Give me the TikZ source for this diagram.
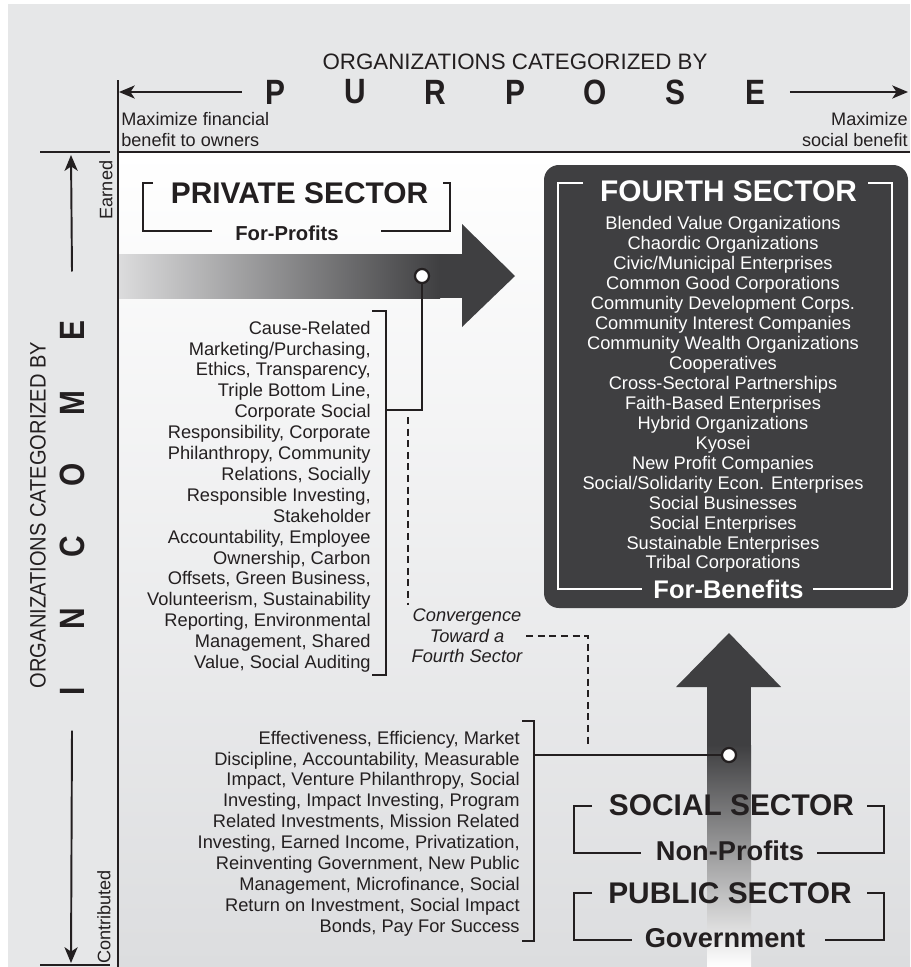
\documentclass[tikz,border=0pt]{standalone}
\usepackage{fontspec}
\setmainfont{Liberation Sans}
\newfontfamily\narrowsans[FakeStretch=0.85]{Liberation Sans}
\newfontfamily\slimsans[FakeStretch=0.9]{Liberation Sans}
\usetikzlibrary{arrows.meta}
\definecolor{sheet-gray}{HTML}{E6E7E8}
\definecolor{panel-gray}{HTML}{DCDDDF}
\definecolor{band-light}{HTML}{DCDCDD}
\definecolor{sector-dark}{HTML}{3F3F41}
\definecolor{ink}{HTML}{231F20}

\begin{document}
\begin{tikzpicture}[x=0.02cm, y=-0.02cm,
      every node/.style={inner sep=0pt, text=ink},
      frame/.style={draw=ink, line width=1.4pt},
      axis/.style={draw=ink, line width=1.1pt},
      axisarrow/.style={axis, -{Stealth[length=9pt, width=7.5pt, inset=2.5pt]}},
      bracket/.style={draw=ink, line width=1.2pt},
      link/.style={draw=ink, line width=1.1pt},
      convline/.style={draw=ink, line width=1.1pt, dash pattern=on 4pt off 2.6pt},
      dot/.style={circle, draw=ink, fill=white, line width=1.3pt, minimum size=8pt},
      bigletter/.style={font=\narrowsans\bfseries\fontsize{20}{24}\selectfont},
      axislabel/.style={font=\fontsize{12.7}{14}\selectfont},
      endlabel/.style={font=\fontsize{10.3}{11.9}\selectfont},
      sectortitle/.style={font=\bfseries\fontsize{17}{20}\selectfont, anchor=base},
      sectorfoot/.style={font=\bfseries\fontsize{15.5}{18}\selectfont, anchor=base},
      itemlist/.style={font=\fontsize{10.4}{11.9}\selectfont}]
  \useasboundingbox (0,0) rectangle (910,967);
  \fill[white] (0,0) rectangle (910,967);
  \fill[sheet-gray] (8,4) rectangle (910,967);
  \shade[top color=white, bottom color=panel-gray] (118,152) rectangle (910,967);

  % purpose axis
  \node[axislabel] (purptitle) at (515,62) {ORGANIZATIONS CATEGORIZED BY};
  \foreach \ch [count=\i] in {P,U,R,P,O,S,E}
    \node[bigletter] (purp\i) at ({195+80*\i},92) {\ch};
  \coordinate (purpmin) at (119,92);
  \coordinate (purpmax) at (908,92);
  \draw[axisarrow] ([xshift=-13pt]purp1.west) -- (purpmin);
  \draw[axisarrow] ([xshift=14pt]purp7.east) -- (purpmax);
  \node[endlabel, align=left, anchor=north west] (purplow) at (121,112) {Maximize financial\\benefit to owners};
  \node[endlabel, align=right, anchor=north east] (purphigh) at (908,112) {Maximize\\social benefit};

  % income axis
  \node[font=\slimsans\fontsize{12.7}{14}\selectfont, rotate=90] (inctitle) at (38,515) {ORGANIZATIONS CATEGORIZED BY};
  \foreach \ch [count=\i] in {I,N,C,O,M,E}
    \node[bigletter, rotate=90] (inc\i) at (72,{763-72*\i}) {\ch};
  \coordinate (incmax) at (71,155);
  \coordinate (incmin) at (71,963);
  \draw[axisarrow] ([yshift=28pt]inc6.east) -- (incmax);
  \draw[axisarrow] ([yshift=-20pt]inc1.west) -- (incmin);
  \node[endlabel, rotate=90] (earned) at (106,190) {Earned};
  \node[endlabel, rotate=90] (contrib) at (104,917) {Contributed};
  \draw[axis] (40,152) -- (110,152);
  \draw[axis] (40,965) -- (110,965);

  % private sector
  \shade[left color=band-light, right color=sector-dark] (118,254) rectangle (440,298);
  \fill[sector-dark] (439,254) rectangle (463,298);
  \fill[sector-dark] (462,224) -- (515,276) -- (462,327) -- cycle;
  \node[sectortitle] (privtitle) at (299.5,203) {PRIVATE SECTOR};
  \node[sectorfoot, font=\bfseries\fontsize{11.5}{14}\selectfont] (privfoot) at (287,240) {For-Profits};
  \draw[bracket] (153,183) -- (143,183) -- (143,231) -- (212,231);
  \draw[bracket] (443,183) -- (450,183) -- (450,231) -- (381,231);
  \node[itemlist, align=right, anchor=north east] (privlist) at (371,320.5) {Cause-Related\\
    Marketing/Purchasing,\\Ethics, Transparency,\\Triple Bottom Line,\\Corporate Social\\
    Responsibility, Corporate\\Philanthropy, Community\\Relations, Socially\\
    Responsible Investing,\\Stakeholder\\Accountability, Employee\\Ownership, Carbon\\
    Offsets, Green Business,\\Volunteerism, Sustainability\\Reporting, Environmental\\
    Management, Shared\\Value, Social Auditing};
  \draw[bracket] (372,311) -- (386,311) -- (386,675) -- (372,675);
  \coordinate (privjoin) at (386,410);
  \node[dot] (privdot) at (422,276) {};
  \draw[link] (privdot) |- (privjoin);

  % fourth sector
  \fill[sector-dark, rounded corners=8.5pt] (544,165) rectangle (908,608);
  \draw[white, line width=1.3pt] (583,183) -- (558,183) -- (558,589) -- (642,589);
  \draw[white, line width=1.3pt] (868,183) -- (892,183) -- (892,589) -- (813,589);
  \node[sectortitle, text=white] (fourthtitle) at (728.5,201.5) {FOURTH SECTOR};
  \node[text=white, align=center, anchor=north, font=\fontsize{10.4}{11.38}\selectfont] (fourthlist) at (723,215.5) {Blended Value Organizations\\
    Chaordic Organizations\\Civic/Municipal Enterprises\\Common Good Corporations\\
    Community Development Corps.\\Community Interest Companies\\
    Community Wealth Organizations\\Cooperatives\\Cross-Sectoral Partnerships\\
    Faith-Based Enterprises\\Hybrid Organizations\\Kyosei\\New Profit Companies\\
    Social/Solidarity Econ. Enterprises\\Social Businesses\\Social Enterprises\\
    Sustainable Enterprises\\Tribal Corporations};
  \node[sectorfoot, text=white, font=\bfseries\fontsize{14.5}{17}\selectfont] (fourthfoot) at (728.5,598) {For-Benefits};

  % social and public sectors
  \fill[sector-dark] (676,687) -- (729,633) -- (781,687) -- cycle;
  \fill[sector-dark] (707,686) rectangle (751,746);
  \shade[top color=sector-dark, middle color=sector-dark!61!white, bottom color=white] (707,745) rectangle (751,967);
  \node[sectortitle] (soctitle) at (731.5,815) {SOCIAL SECTOR};
  \node[sectorfoot] (socfoot) at (730,860) {Non-Profits};
  \draw[bracket] (592,806) -- (574,806) -- (574,853) -- (641,853);
  \draw[bracket] (867,806) -- (884,806) -- (884,853) -- (817,853);
  \node[sectortitle] (pubtitle) at (730,903) {PUBLIC SECTOR};
  \node[sectorfoot] (pubfoot) at (725,947) {Government};
  \draw[bracket] (592,893) -- (574,893) -- (574,940) -- (632,940);
  \draw[bracket] (867,893) -- (884,893) -- (884,940) -- (825,940);

  \node[itemlist, align=right, anchor=north east] (publist) at (520,730.5) {Effectiveness, Efficiency, Market\\
    Discipline, Accountability, Measurable\\Impact, Venture Philanthropy, Social\\
    Investing, Impact Investing, Program\\Related Investments, Mission Related\\
    Investing, Earned Income, Privatization,\\Reinventing Government, New Public\\
    Management, Microfinance, Social\\Return on Investment, Social Impact\\
    Bonds, Pay For Success};
  \draw[bracket] (522,721) -- (534,721) -- (534,941) -- (522,941);
  \coordinate (pubjoin) at (534,755);
  \node[dot] (socdot) at (729,755) {};
  \draw[link] (socdot) -- (pubjoin);

  % convergence
  \node[font=\itshape\fontsize{10.4}{11.6}\selectfont, align=center, inner sep=2pt] (conv) at (467,636) {Convergence\\Toward a\\Fourth Sector};
  \coordinate (privgap) at (408,417);
  \coordinate (socgap) at (588,748);
  \draw[convline] (privgap) -- (privgap |- conv.north west);
  \draw[convline] (conv.east) -| (socgap);

  % panel frame
  \draw[frame] (118,80) -- (118,967);
  \draw[frame] (118,152) -- (910,152);
\end{tikzpicture}
\end{document}
